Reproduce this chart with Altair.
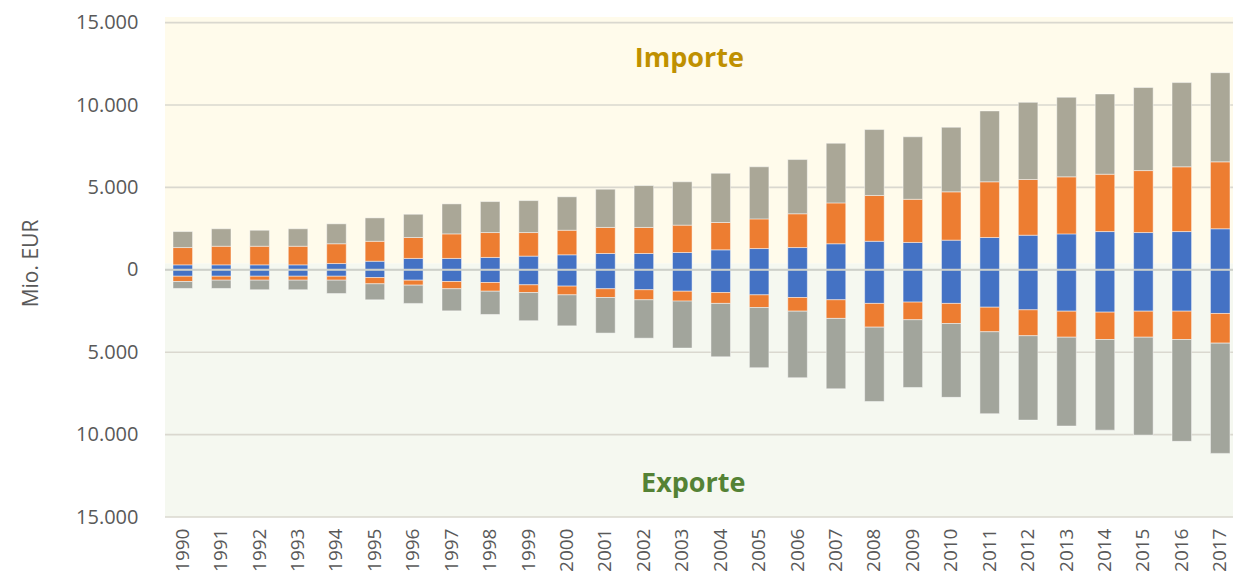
import altair as alt
import pandas as pd

years = [str(y) for y in range(1990, 2018)]

imp_blue = [300, 300, 300, 300, 380, 520, 690, 690, 750, 830, 910, 990, 990, 1050,
            1210, 1290, 1350, 1580, 1730, 1660, 1800, 1960, 2100, 2180, 2320, 2260, 2320, 2490]
imp_orange = [1050, 1130, 1130, 1130, 1200, 1210, 1270, 1490, 1510, 1430, 1490, 1580, 1580, 1660,
              1660, 1800, 2050, 2480, 2780, 2620, 2930, 3380, 3380, 3460, 3480, 3760, 3930, 4060]
imp_gray = [970, 1060, 970, 1060, 1210, 1420, 1410, 1820, 1880, 1940, 2030, 2320, 2540, 2630,
            2990, 3160, 3290, 3620, 4000, 3790, 3920, 4300, 4680, 4830, 4870, 5040, 5110, 5410]

exp_blue = [390, 390, 390, 390, 390, 470, 630, 710, 770, 910, 990, 1150, 1210, 1300,
            1380, 1520, 1680, 1820, 2040, 1960, 2040, 2270, 2430, 2510, 2570, 2510, 2510, 2650]
exp_orange = [320, 240, 240, 240, 240, 380, 300, 440, 530, 470, 530, 530, 610, 600,
              660, 770, 830, 1130, 1440, 1070, 1220, 1490, 1570, 1580, 1660, 1580, 1720, 1800]
exp_gray = [420, 500, 580, 580, 810, 970, 1110, 1340, 1410, 1710, 1880, 2160, 2330, 2850,
            3240, 3650, 4040, 4270, 4510, 4110, 4480, 4970, 5120, 5390, 5500, 5940, 6180, 6690]

grid_values = [-15000, -10000, -5000, 0, 5000, 10000, 15000]

series = [
    ("imp_blue", imp_blue, 1, 0),
    ("imp_orange", imp_orange, 1, 1),
    ("imp_gray", imp_gray, 1, 2),
    ("exp_blue", exp_blue, -1, 0),
    ("exp_orange", exp_orange, -1, 1),
    ("exp_gray", exp_gray, -1, 2),
]
rows = []
for name, vals, sign, order in series:
    for y, v in zip(years, vals):
        rows.append({"year": y, "series": name, "value": sign * v, "ord": order})
df = pd.DataFrame(rows)

color_domain = ["imp_blue", "imp_orange", "imp_gray", "exp_blue", "exp_orange", "exp_gray"]
color_range = ["#4472C4", "#ED7D31", "#AAA797", "#4472C4", "#ED7D31", "#A2A59C"]

YMIN, YMAX = -15000, 15340
yscale = alt.Scale(domain=[YMIN, YMAX], nice=False, zero=False)
yaxis = alt.Axis(values=grid_values, grid=False, ticks=False, domain=False,
                 labelExpr="replace(format(abs(datum.value), ','), ',', '.')",
                 labelFontSize=20, labelColor="#595959", labelFont="Open Sans",
                 labelPadding=27, title="Mio. EUR", titleFontSize=21,
                 titleFontWeight="normal", titleColor="#595959", titleFont="Open Sans",
                 titlePadding=34, titleY=246)

bg_df = pd.DataFrame({"top": [YMAX, 380], "bottom": [380, YMIN], "fill": ["#FFFBEB", "#F5F8F0"]})
bg = alt.Chart(bg_df).mark_rect().encode(
    x=alt.value(0), x2=alt.value("width"),
    y=alt.Y("top:Q", scale=yscale, axis=yaxis), y2="bottom:Q",
    color=alt.Color("fill:N", scale=None, legend=None),
)

grid_df = pd.DataFrame({"v": grid_values})
grid = alt.Chart(grid_df).mark_rule(color="#DAD8CF", strokeWidth=1.6).encode(
    x=alt.value(0), x2=alt.value("width"),
    y=alt.Y("v:Q", scale=yscale, axis=yaxis),
)

bars = alt.Chart(df).mark_bar(stroke="#ffffff", strokeOpacity=0.45, strokeWidth=1).encode(
    x=alt.X("year:N", sort=years,
            scale=alt.Scale(paddingInner=0.4915, paddingOuter=0.1434, align=0.727),
            axis=alt.Axis(title=None, labelAngle=270, labelFontSize=19, labelColor="#595959",
                          labelFont="Open Sans", ticks=False, domain=False, labelPadding=11)),
    y=alt.Y("value:Q", stack="zero", scale=yscale, axis=yaxis),
    color=alt.Color("series:N", scale=alt.Scale(domain=color_domain, range=color_range), legend=None),
    order=alt.Order("ord:Q"),
)

zero_df = pd.DataFrame({"v": [0]})
zero = alt.Chart(zero_df).mark_rule(color="#CDD0CA", strokeWidth=2).encode(
    x=alt.value(0), x2=alt.value("width"),
    y=alt.Y("v:Q", scale=yscale, axis=yaxis),
)

lab_df = pd.DataFrame({"year": ["2003", "2003"], "v": [12800, -13020],
                       "txt": ["Importe", "Exporte"], "col": ["#BF9000", "#548235"]})
imp_txt = alt.Chart(lab_df.iloc[[0]]).mark_text(fontSize=27, fontWeight="bold", font="Open Sans",
                                                baseline="middle", dx=7).encode(
    x=alt.X("year:N", sort=years), y=alt.Y("v:Q", scale=yscale, axis=yaxis),
    text="txt:N", color=alt.Color("col:N", scale=None, legend=None))
exp_txt = alt.Chart(lab_df.iloc[[1]]).mark_text(fontSize=27, fontWeight="bold", font="Open Sans",
                                                baseline="middle", dx=11).encode(
    x=alt.X("year:N", sort=years), y=alt.Y("v:Q", scale=yscale, axis=yaxis),
    text="txt:N", color=alt.Color("col:N", scale=None, legend=None))

chart = alt.layer(bg, grid, bars, zero, imp_txt, exp_txt).resolve_scale(color="independent").properties(
    width=1068, height=500,
    autosize=alt.AutoSizeParams(type="none"),
    padding={"left": 157, "top": 9, "right": 0, "bottom": 58},
    background="white",
).configure_view(stroke=None)

chart.save("out.html", embed_options={"renderer": "svg", "actions": False})
